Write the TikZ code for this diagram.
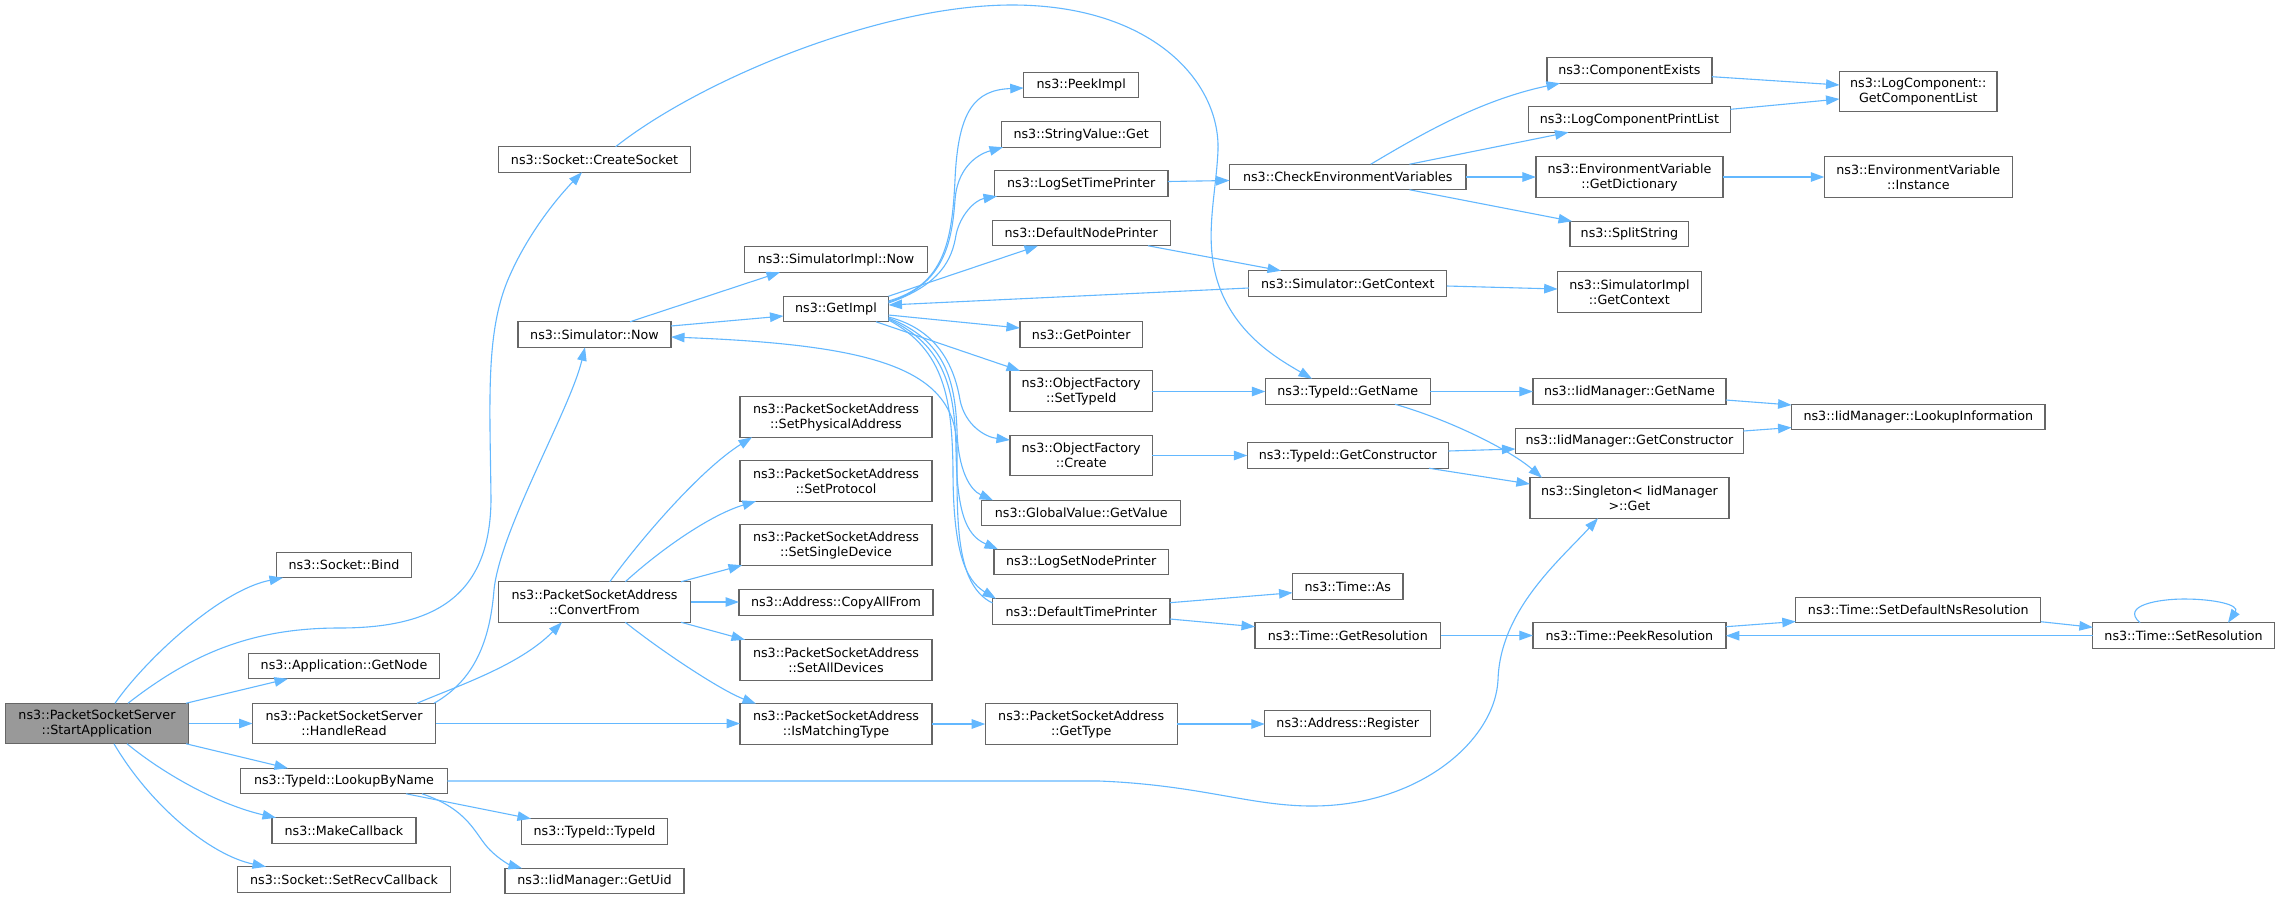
\documentclass[tikz,border=0pt]{standalone}
\usepackage{fontspec}
\setmainfont{DejaVu Sans}
\usetikzlibrary{arrows.meta,calc}
\definecolor{edgec}{HTML}{63B8FF}
\definecolor{nodeb}{HTML}{666666}
\definecolor{rootf}{HTML}{999999}
\tikzset{
  n/.style={draw=nodeb, fill=white, line width=1.2pt, inner sep=0pt, outer sep=0pt, align=center,
    font=\fontsize{12.7}{15}\selectfont},
  s1/.style={minimum height=25.5pt},
  s2/.style={minimum height=40.5pt},
  e/.style={draw=edgec, line width=1.1pt, -{Triangle[length=13.5pt,width=9.5pt]}}
}
\begin{document}
\begin{tikzpicture}[x=1pt,y=-1pt]
\fill[white] (0,0) rectangle (2288,898);
\useasboundingbox (0,0) rectangle (2288,898);
% column 0
\node[n,s2,minimum width=183pt,fill=rootf] (sa) at (97,723.5) {ns3::PacketSocketServer\\::StartApplication};
% column 1
\node[n,s1,minimum width=135pt] (bind) at (344,565) {ns3::Socket::Bind};
\node[n,s1,minimum width=190.5pt] (getnode) at (344,666) {ns3::Application::GetNode};
\node[n,s2,minimum width=183pt] (handleread) at (344,723.5) {ns3::PacketSocketServer\\::HandleRead};
\node[n,s1,minimum width=206.5pt] (lookup) at (344,781) {ns3::TypeId::LookupByName};
\node[n,s1,minimum width=144pt] (makecb) at (344,830.5) {ns3::MakeCallback};
\node[n,s1,minimum width=213pt] (setrecv) at (344,879.5) {ns3::Socket::SetRecvCallback};
% column 2
\node[n,s1,minimum width=192pt] (createsock) at (594.5,159.5) {ns3::Socket::CreateSocket};
\node[n,s1,minimum width=153pt] (simnow) at (594.5,334.5) {ns3::Simulator::Now};
\node[n,s2,minimum width=192pt] (convert) at (594.5,602) {ns3::PacketSocketAddress\\::ConvertFrom};
\node[n,s1,minimum width=146pt] (typeidc) at (594.5,831.5) {ns3::TypeId::TypeId};
\node[n,s1,minimum width=179pt] (getuid) at (594.5,881) {ns3::IidManager::GetUid};
% column 3
\node[n,s1,minimum width=183pt] (simimplnow) at (836,259.5) {ns3::SimulatorImpl::Now};
\node[n,s1,minimum width=105pt] (getimpl) at (836,309) {ns3::GetImpl};
\node[n,s2,minimum width=192pt] (setphys) at (836,417) {ns3::PacketSocketAddress\\::SetPhysicalAddress};
\node[n,s2,minimum width=192pt] (setproto) at (836,481) {ns3::PacketSocketAddress\\::SetProtocol};
\node[n,s2,minimum width=192pt] (setsingle) at (836,545) {ns3::PacketSocketAddress\\::SetSingleDevice};
\node[n,s1,minimum width=194pt] (copyall) at (836,602.5) {ns3::Address::CopyAllFrom};
\node[n,s2,minimum width=192pt] (setall) at (836,660) {ns3::PacketSocketAddress\\::SetAllDevices};
\node[n,s2,minimum width=192pt] (ismatch) at (836,724) {ns3::PacketSocketAddress\\::IsMatchingType};
% column 4
\node[n,s1,minimum width=115pt] (peek) at (1081.2,85) {ns3::PeekImpl};
\node[n,s1,minimum width=159pt] (strval) at (1081.2,134.5) {ns3::StringValue::Get};
\node[n,s1,minimum width=173.5pt] (logtime) at (1081.2,183.5) {ns3::LogSetTimePrinter};
\node[n,s1,minimum width=178pt] (defnode) at (1081.2,233) {ns3::DefaultNodePrinter};
\node[n,s1,minimum width=122.6pt] (getptr) at (1081.2,334.5) {ns3::GetPointer};
\node[n,s2,minimum width=142.5pt] (settypeid) at (1081.2,391) {ns3::ObjectFactory\\::SetTypeId};
\node[n,s2,minimum width=142.5pt] (create) at (1081.2,455.5) {ns3::ObjectFactory\\::Create};
\node[n,s1,minimum width=198.7pt] (globalval) at (1081.2,513) {ns3::GlobalValue::GetValue};
\node[n,s1,minimum width=174.5pt] (lognode) at (1081.2,562) {ns3::LogSetNodePrinter};
\node[n,s1,minimum width=177.4pt] (deftime) at (1081.2,611.5) {ns3::DefaultTimePrinter};
\node[n,s2,minimum width=192pt] (gettype) at (1081.2,724) {ns3::PacketSocketAddress\\::GetType};
% column 5
\node[n,s1,minimum width=236.5pt] (checkenv) at (1347.8,177) {ns3::CheckEnvironmentVariables};
\node[n,s1,minimum width=198pt] (simctx) at (1347.8,283.5) {ns3::Simulator::GetContext};
\node[n,s1,minimum width=165pt] (tgetname) at (1347.8,391.5) {ns3::TypeId::GetName};
\node[n,s1,minimum width=201pt] (tgetctor) at (1347.8,455.5) {ns3::TypeId::GetConstructor};
\node[n,s1,minimum width=110.5pt] (timeas) at (1347.8,586.5) {ns3::Time::As};
\node[n,s1,minimum width=185.6pt] (getres) at (1347.8,635.5) {ns3::Time::GetResolution};
\node[n,s1,minimum width=166pt] (addrreg) at (1347.8,723.5) {ns3::Address::Register};
% column 6
\node[n,s1,minimum width=165pt] (compexists) at (1629.4,70.5) {ns3::ComponentExists};
\node[n,s1,minimum width=202pt] (logcpl) at (1629.4,119.5) {ns3::LogComponentPrintList};
\node[n,s2,minimum width=187pt] (getdict) at (1629.4,177) {ns3::EnvironmentVariable\\::GetDictionary};
\node[n,s1,minimum width=118.8pt] (split) at (1629.4,234) {ns3::SplitString};
\node[n,s2,minimum width=143.5pt] (simimplctx) at (1629.4,292) {ns3::SimulatorImpl\\::GetContext};
\node[n,s1,minimum width=193pt] (iidname) at (1629.4,391.5) {ns3::IidManager::GetName};
\node[n,s1,minimum width=228pt] (iidctor) at (1629.4,441) {ns3::IidManager::GetConstructor};
\node[n,s2,minimum width=199pt] (singleton) at (1629.4,498) {ns3::Singleton< IidManager\\>::Get};
\node[n,s1,minimum width=193pt] (peekres) at (1629.4,635.5) {ns3::Time::PeekResolution};
% column 7
\node[n,s2,minimum width=157.5pt] (gcl) at (1918.3,91.5) {ns3::LogComponent::\\GetComponentList};
\node[n,s2,minimum width=188pt] (envinst) at (1918.3,177) {ns3::EnvironmentVariable\\::Instance};
\node[n,s1,minimum width=253.5pt] (lookupinfo) at (1918.3,417) {ns3::IidManager::LookupInformation};
\node[n,s1,minimum width=245pt] (setdefns) at (1918.3,610) {ns3::Time::SetDefaultNsResolution};
% column 8
\node[n,s1,minimum width=181.3pt] (setres) at (2183.5,635.5) {ns3::Time::SetResolution};

% ---- edges from StartApplication
\draw[e] (115,0 |- sa.north) .. controls (145,660) and (220,590) .. (283,0 |- bind.south);
\draw[e] (128,0 |- sa.north) .. controls (190,655) and (250,628) .. (339,628) .. controls (430,628) and (490,600) .. (491,500) .. controls (490,400) and (485,330) .. (510,275) .. controls (530,230) and (560,195) .. (582,0 |- createsock.south);
\draw[e] (186,0 |- sa.north) -- (288,0 |- getnode.south);
\draw[e] (sa.east) -- (handleread.west);
\draw[e] (186,0 |- sa.south) -- (288,0 |- lookup.north);
\draw[e] (127,0 |- sa.south) .. controls (165,775) and (220,805) .. (276,0 |- makecb.north);
\draw[e] (114,0 |- sa.south) .. controls (150,805) and (210,855) .. (266,0 |- setrecv.north);
% ---- HandleRead
\draw[e] (434,0 |- handleread.north) .. controls (475,680) and (490,640) .. (494,590) .. controls (500,530) and (570,410) .. (585,0 |- simnow.south);
\draw[e] (417,0 |- handleread.north) .. controls (460,685) and (520,665) .. (562,0 |- convert.south);
\draw[e] (handleread.east) -- (handleread.east -| ismatch.west);
% ---- CreateSocket
\draw[e] (615.6,0 |- createsock.north) .. controls (700,80) and (880,5) .. (1012,5) .. controls (1150,5) and (1220,80) .. (1218,150) .. controls (1216,200) and (1200,250) .. (1225,300) .. controls (1245,340) and (1280,360) .. (1312,0 |- tgetname.north);
% ---- Simulator::Now
\draw[e] (630,0 |- simnow.north) -- (780,0 |- simimplnow.south);
\draw[e] (simnow.east |- 0,326) -- (getimpl.west |- 0,316);
\draw[e] (deftime.west |- 0,603) .. controls (955,585) and (957,520) .. (957,450) .. controls (957,370) and (880,345) .. (simnow.east |- 0,337);
% ---- GetImpl
\draw[e] (getimpl.east |- 0,301) .. controls (945,285) and (952,240) .. (955,180) .. controls (958,110) and (975,90) .. (peek.west |- 0,88);
\draw[e] (getimpl.east |- 0,302) .. controls (945,285) and (952,240) .. (955,200) .. controls (957,170) and (975,155) .. (1003,0 |- strval.south);
\draw[e] (getimpl.east |- 0,303) .. controls (940,285) and (952,260) .. (956,235) .. controls (960,215) and (975,200) .. (997,0 |- logtime.south);
\draw[e] (getimpl.north east) .. controls (930,282) and (990,262) .. (1038,0 |- defnode.south);
\draw[e] (getimpl.east |- 0,315) -- (getptr.west |- 0,328);
\draw[e] (876,0 |- getimpl.south) -- (1020,0 |- settypeid.north);
\draw[e] (getimpl.east |- 0,317) .. controls (940,330) and (955,370) .. (960,400) .. controls (965,425) and (985,437) .. (create.west |- 0,440);
\draw[e] (getimpl.east |- 0,318) .. controls (945,340) and (955,380) .. (957,430) .. controls (958,470) and (970,490) .. (993,0 |- globalval.north);
\draw[e] (getimpl.east |- 0,319) .. controls (945,345) and (955,390) .. (956,450) .. controls (957,510) and (965,535) .. (998,0 |- lognode.north);
\draw[e] (getimpl.east |- 0,320) .. controls (945,350) and (952,400) .. (953,470) .. controls (953,550) and (965,580) .. (996,0 |- deftime.north);
\draw[e] (simctx.west |- 0,288) -- (getimpl.east |- 0,305);
% ---- column 4 -> 5
\draw[e] (logtime.east |- 0,181.5) -- (checkenv.west |- 0,180.5);
\draw[e] (1148,0 |- defnode.south) -- (1281,0 |- simctx.north);
\draw[e] (settypeid.east |- tgetname.west) -- (tgetname.west);
\draw[e] (create.east |- tgetctor.west) -- (tgetctor.west);
\draw[e] (deftime.east |- 0,602.7) -- (timeas.west |- 0,592.7);
\draw[e] (deftime.east |- 0,619) -- (getres.west |- 0,626.7);
\draw[e] (gettype.east) -- (gettype.east -| addrreg.west);
% ---- column 5 -> 6
\draw[e] (1370.7,0 |- checkenv.north) .. controls (1420,135) and (1480,100) .. (1560,0 |- compexists.south);
\draw[e] (1409.5,0 |- checkenv.north) -- (1568.5,0 |- logcpl.south);
\draw[e] (checkenv.east) -- (getdict.west);
\draw[e] (1409.5,0 |- checkenv.south) -- (1572,0 |- split.north);
\draw[e] (simctx.east |- 0,286) -- (simimplctx.west |- 0,289);
\draw[e] (tgetname.east) -- (iidname.west);
\draw[e] (1395,0 |- tgetname.south) .. controls (1450,420) and (1510,450) .. (1542,0 |- singleton.north);
\draw[e] (tgetctor.east |- 0,451) -- (iidctor.west |- 0,449);
\draw[e] (1429,0 |- tgetctor.south) -- (singleton.west |- 0,484);
\draw[e] (getres.east) -- (peekres.west);
% ---- column 6 -> 7
\draw[e] (compexists.east |- 0,76.7) -- (gcl.west |- 0,85);
\draw[e] (logcpl.east |- 0,109.3) -- (gcl.west |- 0,99);
\draw[e] (getdict.east) -- (envinst.west);
\draw[e] (iidname.east |- 0,400) -- (lookupinfo.west |- 0,405);
\draw[e] (iidctor.east |- 0,431) -- (lookupinfo.west |- 0,427.5);
\draw[e] (peekres.east |- 0,626.7) -- (setdefns.west |- 0,621.5);
\draw[e] (setdefns.east |- 0,621.7) -- (setres.west |- 0,627.3);
\draw[e] (setres.west |- 0,635.7) -- (peekres.east |- 0,635.7);
\draw[e] (2140,0 |- setres.north) .. controls (2120,605) and (2160,599) .. (2184,599) .. controls (2215,599) and (2240,605) .. (2228,0 |- setres.north);
% ---- LookupByName
\draw[e] (406,0 |- lookup.south) -- (531,0 |- typeidc.north);
\draw[e] (422,0 |- lookup.south) .. controls (470,810) and (475,835) .. (490,850) .. controls (500,860) and (510,865) .. (522,0 |- getuid.north);
\draw[e] (lookup.east) -- (1099,781) .. controls (1200,785) and (1250,806) .. (1312,806) .. controls (1420,806) and (1495,740) .. (1498,680) .. controls (1500,610) and (1560,560) .. (1598,0 |- singleton.south);
% ---- ConvertFrom
\draw[e] (609.8,0 |- convert.north) .. controls (640,540) and (700,470) .. (752,0 |- setphys.south);
\draw[e] (625.3,0 |- convert.north) .. controls (660,550) and (710,515) .. (756,0 |- setproto.south);
\draw[e] (681,0 |- convert.north) -- (742,0 |- setsingle.south);
\draw[e] (convert.east) -- (convert.east -| copyall.west);
\draw[e] (681,0 |- convert.south) -- (745,0 |- setall.north);
\draw[e] (625.3,0 |- convert.south) .. controls (660,650) and (720,690) .. (756,0 |- ismatch.north);
\draw[e] (ismatch.east) -- (gettype.west);
\end{tikzpicture}
\end{document}
